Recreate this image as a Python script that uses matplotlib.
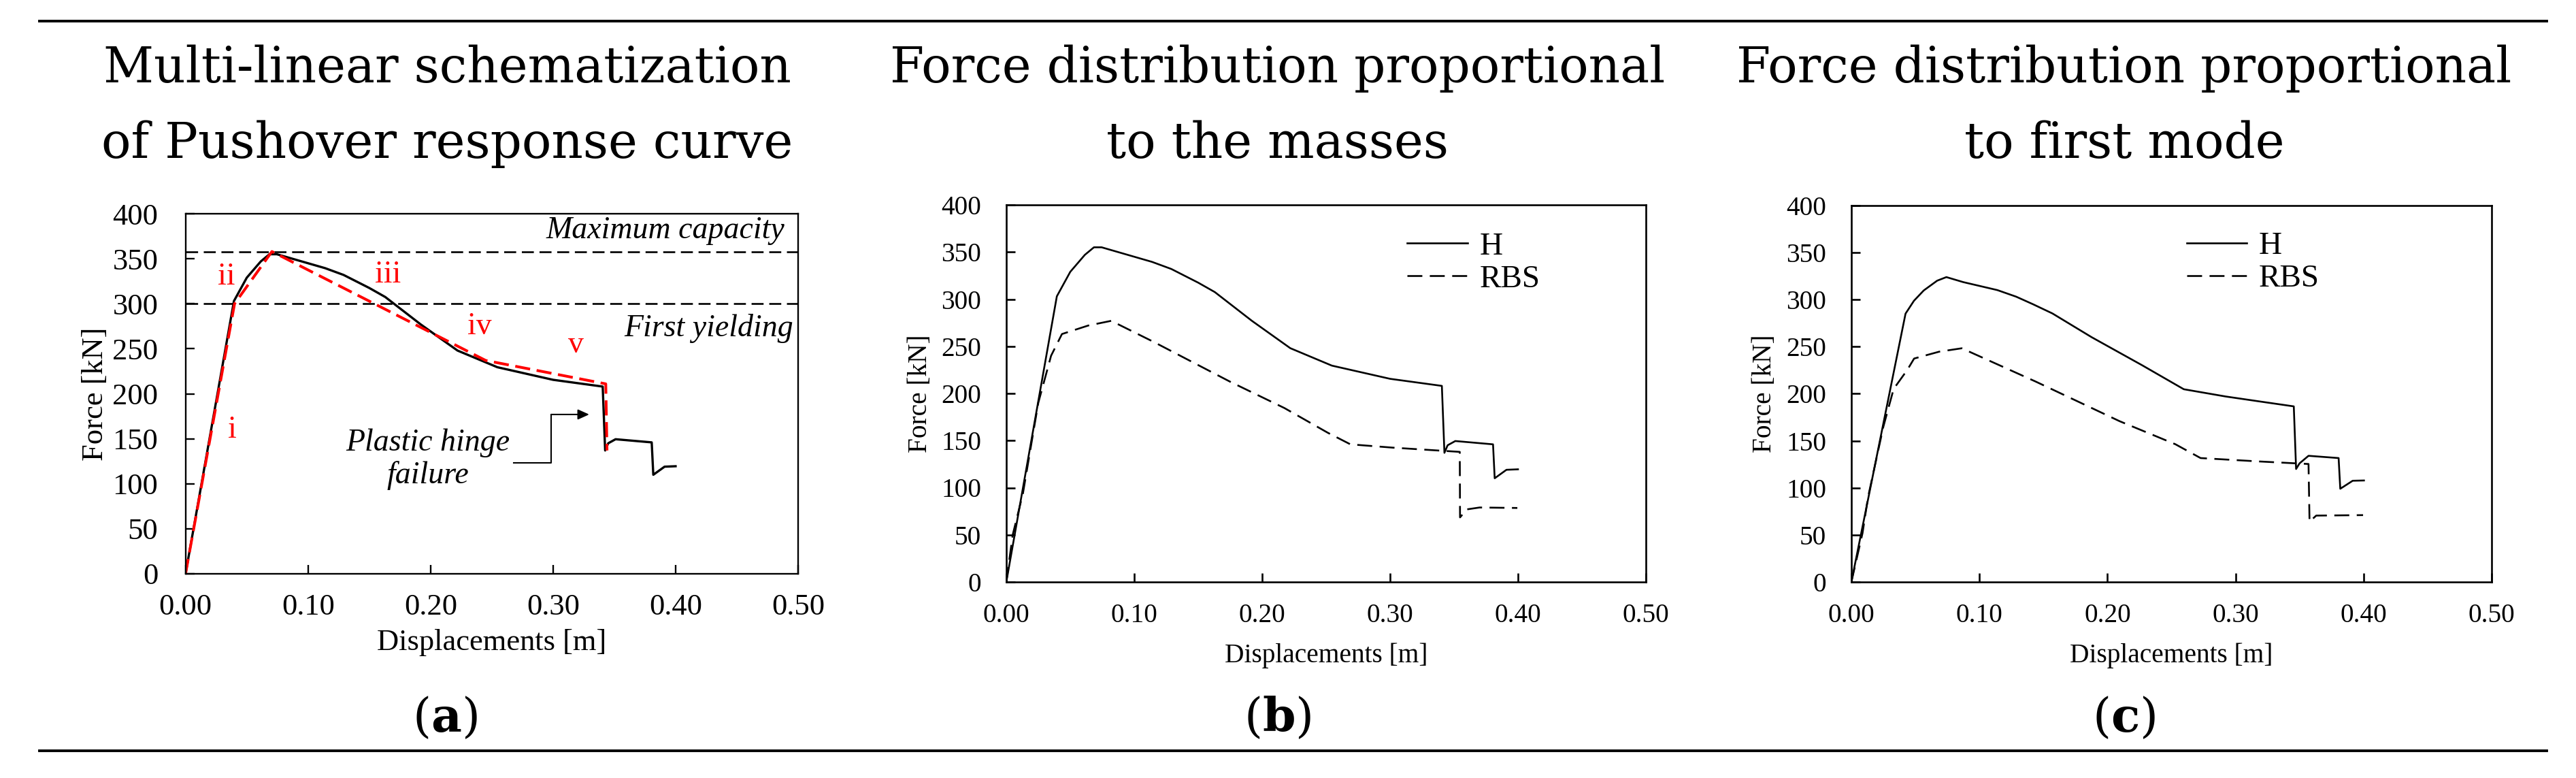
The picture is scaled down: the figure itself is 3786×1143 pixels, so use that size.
import matplotlib.pyplot as plt
from matplotlib.lines import Line2D

plt.rcParams['font.family'] = ['Liberation Serif', 'DejaVu Serif']
plt.rcParams['mathtext.fontset'] = 'custom'
plt.rcParams['mathtext.rm'] = 'DejaVu Serif'
plt.rcParams['mathtext.bf'] = 'DejaVu Serif:bold'
plt.rcParams['lines.scale_dashes'] = False

# Pushover curve H, forces proportional to the masses (also used in panel a)
h_mass_x = [0, 0.0395, 0.050, 0.0614, 0.0685, 0.0745, 0.114, 0.129, 0.150, 0.163, 0.192,
            0.222, 0.2545, 0.300, 0.3405, 0.3425, 0.345, 0.351, 0.3805, 0.3818, 0.391, 0.400]
h_mass_f = [0, 303, 329, 347, 355, 355, 339.5, 332, 317.5, 307.5, 277,
            248, 229.5, 215.5, 208, 137, 145, 149.5, 146, 110, 119, 119.5]

# RBS, forces proportional to the masses
rbs_mass_x = [0, 0.005, 0.013, 0.025, 0.035, 0.0435, 0.064, 0.082, 0.1157, 0.175, 0.2174,
              0.2513, 0.269, 0.302, 0.3545, 0.3547, 0.360, 0.370, 0.3995]
rbs_mass_f = [0, 50, 94, 190, 240, 263, 272, 277, 254.3, 212.4, 184.5,
              158.3, 146, 142.5, 138, 68.5, 77, 79, 78.5]

# H, forces proportional to first mode
h_mode_x = [0, 0.0423, 0.0489, 0.0565, 0.0670, 0.0742, 0.0873, 0.1140, 0.1287, 0.1418, 0.157,
            0.1876, 0.2269, 0.2596, 0.2923, 0.3185, 0.3455, 0.3473, 0.350, 0.357, 0.3805,
            0.3818, 0.3915, 0.4003]
h_mode_f = [0, 285, 298.7, 309.6, 320, 323.8, 318.5, 310, 303, 295, 285.2,
            260, 230.3, 204.7, 197, 191.8, 186.5, 120, 126, 134, 131.6,
            99, 107.5, 107.8]

# RBS, forces proportional to first mode
rbs_mode_x = [0, 0.0087, 0.013, 0.025, 0.033, 0.0437, 0.049, 0.0686, 0.0862, 0.144, 0.2094,
              0.253, 0.2727, 0.3185, 0.357, 0.3578, 0.363, 0.3996]
rbs_mode_f = [0, 51.8, 90, 165, 205, 225.3, 237.3, 244.6, 248.2, 212.8, 170.8,
              146.3, 131.6, 128, 125.3, 64, 70.5, 71]

# multi-linear schematization (panel a)
red_x = [0, 0.040, 0.0705, 0.245, 0.343, 0.344]
red_f = [0, 300, 358, 237, 211, 137]
max_capacity = 358
first_yielding = 300
seg_labels = ['i', 'ii', 'iii', 'iv', 'v']
seg_x = [0.038, 0.0331, 0.1652, 0.2398, 0.3185]
seg_f = [159.5, 330, 331.8, 274.3, 254]
arrow_x = [0.2677, 0.2986, 0.2986]
arrow_f = [123.3, 123.3, 177]
arrow_tip = (0.3295, 177)

x_ticks = [0, 0.1, 0.2, 0.3, 0.4, 0.5]
y_ticks = [0, 50, 100, 150, 200, 250, 300, 350, 400]

W, H = 3786, 1143
fig = plt.figure(figsize=(W / 100, H / 100), dpi=100)


def add_axes_px(left, top, right, bottom):
    return fig.add_axes([left / W, 1 - bottom / H, (right - left) / W, (bottom - top) / H])


def style(ax, fs, lw, xpad, ypad, xlab_y, ylab_x):
    ax.set_xlim(0, 0.5)
    ax.set_ylim(0, 400)
    ax.set_xticks(x_ticks)
    ax.set_xticklabels([f"{t:.2f}" for t in x_ticks])
    ax.set_yticks(y_ticks)
    ax.tick_params(direction='in', length=9.4, width=lw, labelsize=fs, top=False, right=False)
    ax.tick_params(axis='x', pad=xpad)
    ax.tick_params(axis='y', pad=ypad)
    for s in ax.spines.values():
        s.set_linewidth(lw)
    ax.set_xlabel('Displacements [m]', fontsize=fs)
    ax.xaxis.label.set_va('baseline')
    ax.xaxis.set_label_coords(0.5, xlab_y)
    ax.set_ylabel('Force [kN]', fontsize=fs)
    ax.yaxis.label.set_va('center')
    ax.yaxis.set_label_coords(ylab_x, 0.5)


# (a) multi-linear schematization
ax1 = add_axes_px(272.7, 314, 1173, 843)
style(ax1, 32, 1.7, 21, 29, -0.2117, -0.1474)
ax1.axhline(max_capacity, color='k', lw=1.9, dashes=(12.7, 6))
ax1.axhline(first_yielding, color='k', lw=1.9, dashes=(12.7, 6))
ax1.plot(h_mass_x, h_mass_f, color='k', lw=2.4)
ax1.plot(red_x, red_f, color='#ff0000', lw=2.9, dashes=(16, 7))
for lab, x, f in zip(seg_labels, seg_x, seg_f):
    ax1.text(x, f, lab, color='#ff0000', fontsize=33, ha='center', va='center')
ax1.text(0.489, 381, 'Maximum capacity', style='italic', fontsize=33, ha='right', va='center')
ax1.text(0.496, 272.6, 'First yielding', style='italic', fontsize=33, ha='right', va='center')
ax1.text(0.198, 127, 'Plastic hinge\nfailure', style='italic', fontsize=33,
         ha='center', va='center', linespacing=1.15)
ax1.plot(arrow_x, arrow_f, color='k', lw=1.5)
ax1.annotate('', xy=arrow_tip, xytext=(arrow_x[-1], arrow_f[-1]),
             arrowprops=dict(arrowstyle='-|>,head_length=1.0,head_width=0.45', color='k', lw=1.5,
                             shrinkA=0, shrinkB=0))

# (b) and (c) capacity curves
panels = [
    (add_axes_px(1479, 301, 2419, 855), h_mass_x, h_mass_f, rbs_mass_x, rbs_mass_f, 0.627, 0.846),
    (add_axes_px(2721, 301.7, 3662, 855), h_mode_x, h_mode_f, rbs_mode_x, rbs_mode_f, 0.5236, 0.848),
]
for ax, hx, hf, rx, rf, lx, ly in panels:
    style(ax, 28.4, 1.9, 22, 26.5, -0.213, -0.135)
    ax.plot(hx, hf, color='k', lw=1.9, label='H')
    ax.plot(rx, rf, color='k', lw=1.9, dashes=(15.8, 7.9), label='RBS')
    ax.legend(loc='center left', bbox_to_anchor=(lx, ly), frameon=False, fontsize=34,
              handlelength=1.87, handletextpad=0.38, labelspacing=0.1,
              borderpad=0, borderaxespad=0)

# titles and panel letters
titles = [
    ('Multi-linear schematization', 'of Pushover response curve'),
    ('Force distribution proportional', 'to the masses'),
    ('Force distribution proportional', 'to first mode'),
]
title_cx = [657, 1878, 3122]
letters = ['a', 'b', 'c']
letter_cx = [654, 1878, 3122]
for (l1, l2), cx in zip(titles, title_cx):
    fig.text(cx / W, 1 - 121 / H, l1, family='DejaVu Serif', fontsize=52, ha='center', va='baseline')
    fig.text(cx / W, 1 - 232 / H, l2, family='DejaVu Serif', fontsize=52, ha='center', va='baseline')
for lt, cx in zip(letters, letter_cx):
    fig.text(cx / W, 1 - 1075 / H, r'$(\mathbf{' + lt + r'})$', fontsize=50, ha='center', va='baseline')

# horizontal rules above and below
for y in (31, 1103):
    fig.add_artist(Line2D([58 / W, 3743 / W], [1 - y / H, 1 - y / H], color='k', lw=2.8))

fig.savefig('out.png', dpi=100)
